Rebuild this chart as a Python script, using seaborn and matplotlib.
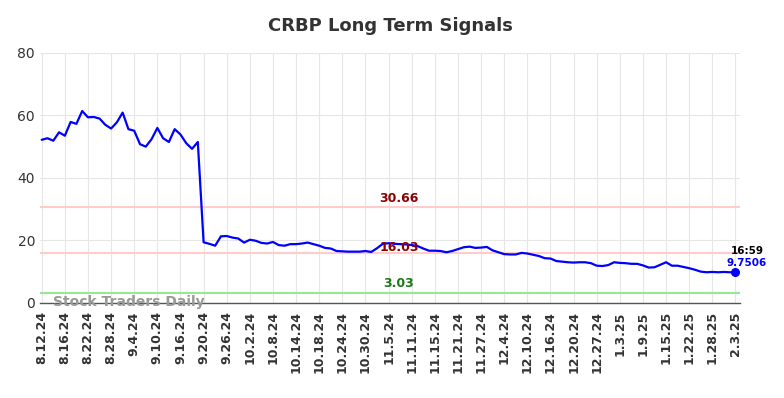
import numpy as np
import pandas as pd
import matplotlib
matplotlib.use("Agg")
import matplotlib.pyplot as plt
import seaborn as sns

# signal values, one per trading day (8.12.24 .. 2.3.25)
signal = [
    52.2, 52.7, 51.9, 54.6, 53.5, 57.9, 57.3, 61.4, 59.4, 59.5,
    59.0, 57.0, 55.8, 57.8, 60.9, 55.6, 55.1, 50.8, 50.0, 52.4,
    56.0, 52.7, 51.5, 55.6, 53.9, 51.1, 49.3, 51.5, 19.4, 18.9,
    18.3, 21.3, 21.4, 20.9, 20.6, 19.3, 20.2, 19.9, 19.2, 19.0,
    19.5, 18.5, 18.3, 18.8, 18.8, 19.0, 19.3, 18.8, 18.3, 17.6,
    17.4, 16.6, 16.5, 16.4, 16.4, 16.4, 16.6, 16.3, 17.5, 18.9,
    19.1, 18.9, 18.8, 18.7, 18.5, 18.2, 17.4, 16.7, 16.7, 16.6,
    16.2, 16.6, 17.2, 17.8, 18.0, 17.6, 17.7, 17.9, 16.8, 16.2,
    15.6, 15.5, 15.5, 16.0, 15.8, 15.4, 15.0, 14.3, 14.2, 13.4,
    13.2, 13.0, 12.9, 13.0, 13.0, 12.7, 11.9, 11.8, 12.1, 13.0,
    12.8, 12.7, 12.5, 12.5, 12.0, 11.3, 11.4, 12.2, 13.0, 11.9,
    11.9, 11.5, 11.1, 10.6, 10.0, 9.8, 9.9, 9.8, 9.9, 9.8,
    9.7506,
]

# one label every 4 trading days
tick_labels = [
    "8.12.24", "8.16.24", "8.22.24", "8.28.24", "9.4.24", "9.10.24",
    "9.16.24", "9.20.24", "9.26.24", "10.2.24", "10.8.24", "10.14.24",
    "10.18.24", "10.24.24", "10.30.24", "11.5.24", "11.11.24", "11.15.24",
    "11.21.24", "11.27.24", "12.4.24", "12.10.24", "12.16.24", "12.20.24",
    "12.27.24", "1.3.25", "1.9.25", "1.15.25", "1.22.25", "1.28.25", "2.3.25",
]

levels = [30.66, 16.03, 3.03]
level_line_colors = ["#ffcccc", "#ffcccc", "#99e699"]
level_text_colors = ["#8b0000", "#8b0000", "#1a7a1a"]

last_time = "16:59"

df = pd.DataFrame({"x": np.arange(len(signal)), "signal": signal})

sns.set_style("whitegrid", {"grid.color": "#e6e6e6", "axes.edgecolor": "#e6e6e6"})
plt.rcParams['font.family'] = ['DejaVu Sans']

fig, ax = plt.subplots(figsize=(7.84, 3.98), dpi=100)
fig.subplots_adjust(left=0.051, right=0.944, top=0.867, bottom=0.239)

for lvl, lc in zip(levels, level_line_colors):
    ax.axhline(lvl, color=lc, lw=1.5, zorder=1)

sns.lineplot(data=df, x="x", y="signal", color="#0000ff", lw=1.6, ax=ax, zorder=3)

last_x = df["x"].iloc[-1]
last_y = df["signal"].iloc[-1]
ax.scatter([last_x], [last_y], color="#0000ff", s=30, zorder=4)

mid_x = (len(signal) - 1) * 0.515
ax.text(mid_x, levels[0] + 0.6, f"{levels[0]:.2f}", color=level_text_colors[0],
        fontsize=9, fontweight="bold", ha="center", va="bottom")
ax.text(mid_x, levels[1] + 1.8, f"{levels[1]:.2f}", color=level_text_colors[1],
        fontsize=9, fontweight="bold", ha="center", va="center")
ax.text(mid_x, levels[2] + 1.0, f"{levels[2]:.2f}", color=level_text_colors[2],
        fontsize=9, fontweight="bold", ha="center", va="bottom")

ax.text(last_x + 2, last_y + 7, last_time, color="black", fontsize=7.5,
        fontweight="bold", ha="center", va="center")
ax.text(last_x + 2, last_y + 3, f"{last_y:.4f}", color="#0000ff", fontsize=7.5,
        fontweight="bold", ha="center", va="center")

ax.text(2, 0.2, "Stock Traders Daily", color="#999999", fontsize=10,
        fontweight="bold", ha="left", va="center", zorder=5)

ax.set_xlim(-0.3, len(signal) - 1 + 0.8)
ax.set_ylim(0, 80)
ax.set_yticks([0, 20, 40, 60, 80])
ax.set_xticks(np.arange(0, len(signal), 4))
ax.set_xticklabels(tick_labels, rotation=90, fontsize=9, fontweight="bold", color="#333333")
ax.tick_params(axis="y", labelsize=10, labelcolor="#333333", length=0)
ax.tick_params(axis="x", length=0, pad=6)
ax.set_xlabel("")
ax.set_ylabel("")

for side in ["top", "right", "left"]:
    ax.spines[side].set_visible(False)
ax.spines["bottom"].set_color("#555555")
ax.spines["bottom"].set_linewidth(1.0)

ax.set_title("CRBP Long Term Signals", fontsize=13, fontweight="bold", color="#333333", pad=16)

fig.savefig("out.png", dpi=100)
